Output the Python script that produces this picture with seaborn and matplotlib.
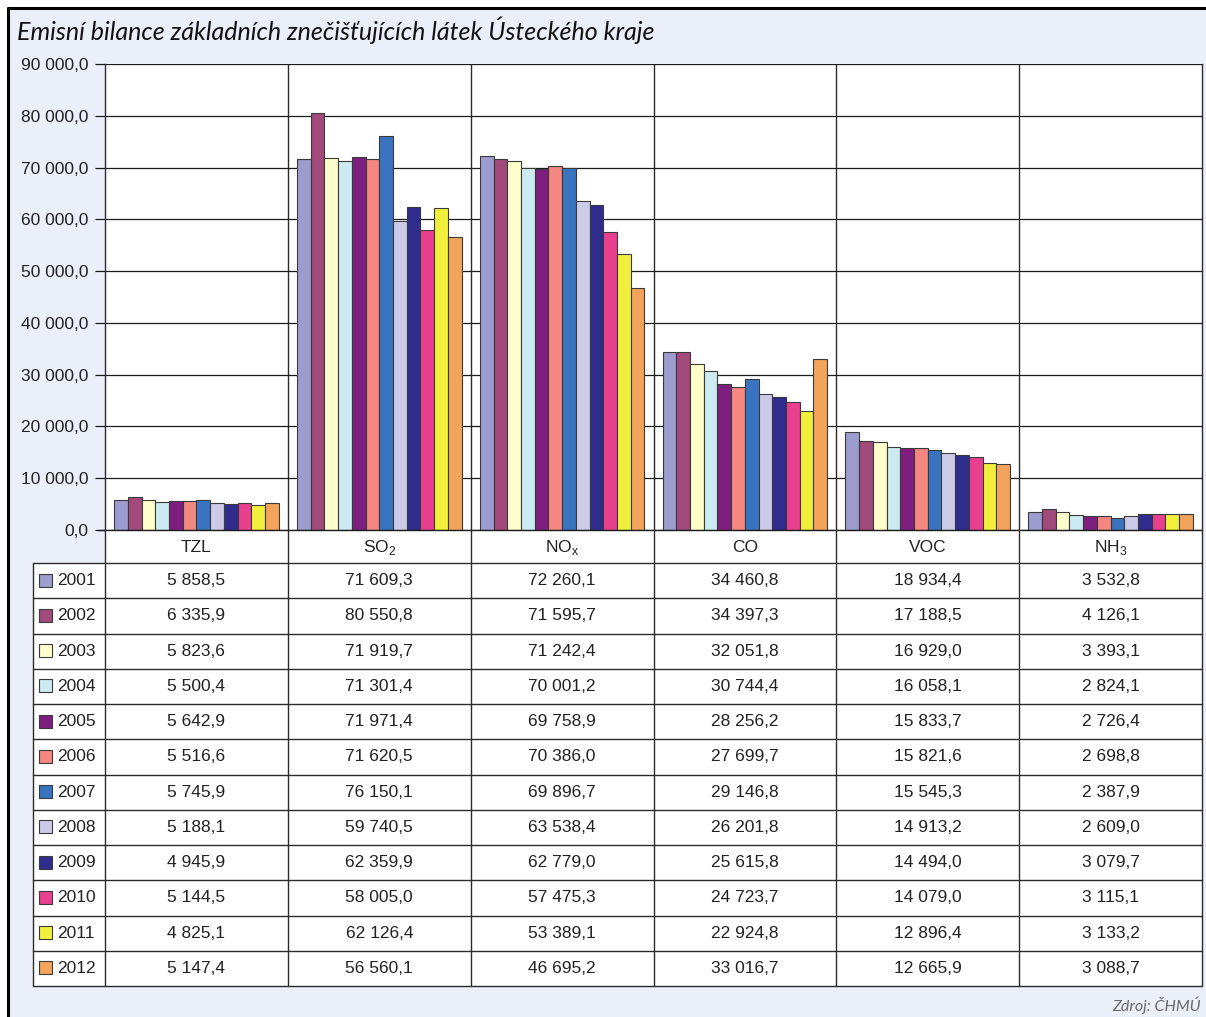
import matplotlib
matplotlib.use("Agg")
import matplotlib.pyplot as plt
from matplotlib.patches import Rectangle
from matplotlib.lines import Line2D
from matplotlib.ticker import MultipleLocator, FuncFormatter
import numpy as np
import pandas as pd
import seaborn as sns

# ---- data (t/rok) ----
pollutants = ["TZL", "SO2", "NOx", "CO", "VOC", "NH3"]
pollutant_labels = ["TZL", r"SO$_\mathregular{2}$", r"NO$_\mathregular{x}$",
                    "CO", "VOC", r"NH$_\mathregular{3}$"]
years = ["2001", "2002", "2003", "2004", "2005", "2006",
         "2007", "2008", "2009", "2010", "2011", "2012"]

tzl = [5858.5, 6335.9, 5823.6, 5500.4, 5642.9, 5516.6, 5745.9, 5188.1, 4945.9, 5144.5, 4825.1, 5147.4]
so2 = [71609.3, 80550.8, 71919.7, 71301.4, 71971.4, 71620.5, 76150.1, 59740.5, 62359.9, 58005.0, 62126.4, 56560.1]
nox = [72260.1, 71595.7, 71242.4, 70001.2, 69758.9, 70386.0, 69896.7, 63538.4, 62779.0, 57475.3, 53389.1, 46695.2]
co = [34460.8, 34397.3, 32051.8, 30744.4, 28256.2, 27699.7, 29146.8, 26201.8, 25615.8, 24723.7, 22924.8, 33016.7]
voc = [18934.4, 17188.5, 16929.0, 16058.1, 15833.7, 15821.6, 15545.3, 14913.2, 14494.0, 14079.0, 12896.4, 12665.9]
nh3 = [3532.8, 4126.1, 3393.1, 2824.1, 2726.4, 2698.8, 2387.9, 2609.0, 3079.7, 3115.1, 3133.2, 3088.7]

year_colors = ["#9C9CCF", "#A24A7C", "#FFFFCC", "#CCEAF2", "#7E1F80", "#F4877F",
               "#3A74C0", "#CDCAE8", "#302C8E", "#E8408E", "#F0F03C", "#F4A45A"]

series = [tzl, so2, nox, co, voc, nh3]
df = pd.DataFrame(
    [(p, y, v) for p, vals in zip(pollutants, series) for y, v in zip(years, vals)],
    columns=["pollutant", "year", "value"],
)


def cz(v, _pos=None):
    return f"{v:,.1f}".replace(",", " ").replace(".", ",")


# ---- figure layout (pixels) ----
W, H = 1206, 1017
AX_L, AX_R, AX_T, AX_B = 105, 1202, 64, 530
HDR_B = 563
ROW_H = 35.25
TBL_L = 33
TBL_B = HDR_B + ROW_H * len(years)
BG = "#EBEFF9"
LINE = "#2b2b2b"

sns.set_theme(style="white")
plt.rcParams["font.family"] = ["Liberation Sans", "DejaVu Sans"]
plt.rcParams["mathtext.fontset"] = "custom"
plt.rcParams["mathtext.rm"] = "Liberation Sans"

fig = plt.figure(figsize=(W / 100, H / 100), dpi=100, facecolor=BG)
ax = fig.add_axes([AX_L / W, 1 - AX_B / H, (AX_R - AX_L) / W, (AX_B - AX_T) / H])
ax.set_facecolor("white")

sns.barplot(data=df, x="pollutant", y="value", hue="year", order=pollutants,
            hue_order=years, palette=year_colors, saturation=1, width=0.9,
            gap=0, edgecolor="#3a3a3a", linewidth=0.8, legend=False,
            errorbar=None, ax=ax)

ax.set_ylim(0, 90000)
ax.set_xlim(-0.5, len(pollutants) - 0.5)
ax.yaxis.set_major_locator(MultipleLocator(10000))
ax.yaxis.set_major_formatter(FuncFormatter(cz))
ax.yaxis.grid(True, color="#1a1a1a", lw=0.9)
ax.set_axisbelow(True)
for b in np.arange(0.5, len(pollutants) - 0.5):
    ax.axvline(b, color=LINE, lw=1.0, zorder=0.5)
ax.set_xticks([])
ax.set_xlabel("")
ax.set_ylabel("")
ax.tick_params(axis="y", which="major", left=True, length=7, width=0.9,
               color="#1a1a1a", labelsize=12.5, labelcolor="#222222", pad=5)
for side, sp in ax.spines.items():
    sp.set_visible(side in ("left", "right"))
    sp.set_color(LINE)
    sp.set_linewidth(1.0)

# ---- overlay in pixel coordinates: frame, data table, texts ----
ov = fig.add_axes([0, 0, 1, 1], zorder=3)
ov.set_xlim(0, W)
ov.set_ylim(H, 0)
ov.axis("off")
ov.patch.set_alpha(0)

# white frame corner and black outline
ov.add_patch(Rectangle((0, 0), W, 8, color="white", lw=0))
ov.add_patch(Rectangle((0, 0), 8, H, color="white", lw=0))
ov.add_line(Line2D([8, W], [8, 8], color="black", lw=2.2))
ov.add_line(Line2D([8, 8], [8, H], color="black", lw=2.2))

ov.text(17, 30, "Emisní bilance základních znečišťujících látek Ústeckého kraje",
        fontsize=18, style="italic", family=["Lato", "DejaVu Sans"],
        color="#111111", ha="left", va="center")

# table background
ov.add_patch(Rectangle((AX_L, AX_B), AX_R - AX_L, HDR_B - AX_B, color="white", lw=0))
ov.add_patch(Rectangle((TBL_L, HDR_B), AX_R - TBL_L, TBL_B - HDR_B, color="white", lw=0))

col_w = (AX_R - AX_L) / len(pollutants)
col_edges = [AX_L + i * col_w for i in range(len(pollutants) + 1)]

# x axis baseline
ov.add_line(Line2D([AX_L - 7, AX_R], [AX_B, AX_B], color="#1a1a1a", lw=1.0))
# horizontal table rules
for r in range(len(years) + 1):
    y = HDR_B + r * ROW_H
    ov.add_line(Line2D([TBL_L, AX_R], [y, y], color=LINE, lw=1.0))
# vertical table rules
ov.add_line(Line2D([TBL_L, TBL_L], [HDR_B, TBL_B], color=LINE, lw=1.0))
for x in col_edges:
    ov.add_line(Line2D([x, x], [AX_B, TBL_B], color=LINE, lw=1.0))

# header labels
for i, lab in enumerate(pollutant_labels):
    ov.text(col_edges[i] + col_w / 2, (AX_B + HDR_B) / 2 + 1, lab, fontsize=12.5,
            color="#222222", ha="center", va="center")

# rows: legend key + values
for r, (yr, colr) in enumerate(zip(years, year_colors)):
    yc = HDR_B + (r + 0.5) * ROW_H
    ov.add_patch(Rectangle((39, yc - 7), 13, 13, facecolor=colr,
                           edgecolor="#3a3a3a", lw=0.8))
    ov.text(57, yc, yr, fontsize=12.5, color="#222222", ha="left", va="center")
    for i, vals in enumerate(series):
        ov.text(col_edges[i] + col_w / 2, yc, cz(vals[r]), fontsize=12.5,
                color="#222222", ha="center", va="center")

ov.text(1201, 1005, "Zdroj: ČHMÚ", fontsize=11.5, style="italic",
        family=["Lato", "DejaVu Sans"], color="#6a6a6a", ha="right", va="center")

fig.savefig("out.png", dpi=100, facecolor=BG)
